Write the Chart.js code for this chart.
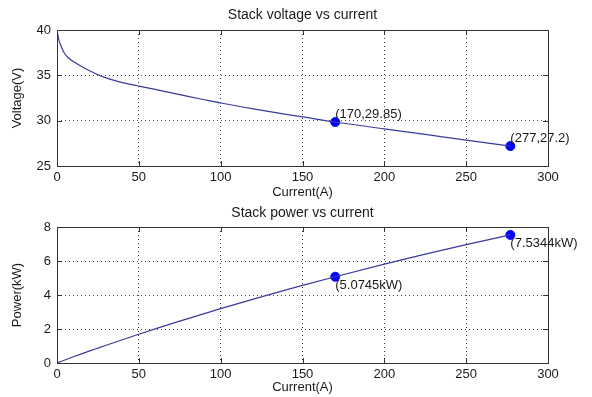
<!DOCTYPE html>
<html>
<head>
<meta charset="utf-8">
<script src="https://cdn.jsdelivr.net/npm/chart.js@4"></script>
<style>
  html, body { margin: 0; padding: 0; background: #fff; }
  #wrap { position: relative; width: 592px; height: 397px; }
  #wrap div { position: absolute; left: 0; width: 592px; }
</style>
</head>
<body>
<div id="wrap">
  <div style="top:0;height:200px"><canvas id="vChart"></canvas></div>
  <div style="top:200px;height:197px"><canvas id="pChart"></canvas></div>
</div>
<script>
// values
const current = [0, 1, 2, 4, 6, 8, 10, 15, 20, 25, 30, 35, 40, 45, 50, 60, 70, 80, 90, 100, 120, 140, 150, 170, 200, 225, 250, 277];
const voltage = [40, 39.0, 38.45, 37.6, 37.1, 36.78, 36.52, 35.98, 35.5, 35.06, 34.72, 34.44, 34.2, 34.0, 33.82, 33.45, 33.06, 32.68, 32.31, 31.95, 31.3, 30.7, 30.42, 29.85, 29.1, 28.48, 27.85, 27.2];
const power = [0, 0.039, 0.0769, 0.1504, 0.2226, 0.2942, 0.3652, 0.5397, 0.71, 0.8765, 1.0416, 1.2054, 1.368, 1.53, 1.691, 2.007, 2.3142, 2.6144, 2.9079, 3.195, 3.756, 4.298, 4.563, 5.0745, 5.82, 6.408, 6.9625, 7.5344];

const markCurrent = [170, 277];
const markVoltage = [29.85, 27.2];
const markPower = [5.0745, 7.5344];
const voltLabels = ['(170,29.85)', '(277,27.2)'];
const powerLabels = ['(5.0745kW)', '(7.5344kW)'];

const xTicks = [0, 50, 100, 150, 200, 250, 300];
const voltTicks = [25, 30, 35, 40];
const powerTicks = [0, 2, 4, 6, 8];

const FONT = 'Liberation Sans, Arial, sans-serif';
const LINE = '#3a3a9e';
const TEXT = '#1a1a1a';

function pts(xs, ys) {
  return xs.map((x, i) => ({ x: x, y: ys[i] }));
}

// box, inner ticks, title and point labels
const frame = {
  id: 'frame',
  afterDraw(chart, args, opts) {
    const ctx = chart.ctx;
    const a = chart.chartArea;
    const xs = chart.scales.x, ys = chart.scales.y;
    ctx.save();
    ctx.strokeStyle = '#333';
    ctx.lineWidth = 1;
    ctx.strokeRect(Math.round(a.left) + 0.5, Math.round(a.top) + 0.5, Math.round(a.right - a.left), Math.round(a.bottom - a.top));
    ctx.beginPath();
    xTicks.forEach(v => {
      const px = Math.round(xs.getPixelForValue(v)) + 0.5;
      ctx.moveTo(px, a.bottom); ctx.lineTo(px, a.bottom - 5);
      ctx.moveTo(px, a.top); ctx.lineTo(px, a.top + 5);
    });
    opts.yTicks.forEach(v => {
      const py = Math.round(ys.getPixelForValue(v)) + 0.5;
      ctx.moveTo(a.left, py); ctx.lineTo(a.left + 5, py);
      ctx.moveTo(a.right, py); ctx.lineTo(a.right - 5, py);
    });
    ctx.stroke();

    ctx.fillStyle = TEXT;
    ctx.font = '14px ' + FONT;
    ctx.textAlign = 'center';
    ctx.textBaseline = 'middle';
    ctx.fillText(opts.title, (a.left + a.right) / 2, opts.titleY);

    ctx.font = '13px ' + FONT;
    ctx.textAlign = 'left';
    const meta = chart.getDatasetMeta(1);
    meta.data.forEach((el, i) => {
      ctx.fillText(opts.labels[i], el.x, el.y + opts.labelDy[i]);
    });
    ctx.restore();
  }
};

function makeChart(id, ys, marks, yMin, yMax, yTicks, yTitle, opts) {
  return new Chart(document.getElementById(id), {
    type: 'scatter',
    data: {
      datasets: [
        {
          data: pts(current, ys),
          showLine: true,
          borderColor: LINE,
          borderWidth: 1.2,
          pointRadius: 0,
          cubicInterpolationMode: 'monotone'
        },
        {
          data: pts(markCurrent, marks),
          showLine: false,
          pointRadius: 4.5,
          pointBackgroundColor: '#0000ff',
          pointBorderColor: '#0000ff'
        }
      ]
    },
    options: {
      responsive: true,
      maintainAspectRatio: false,
      animation: false,
      layout: { padding: { top: opts.padTop, right: 44, left: 0, bottom: 0 } },
      plugins: {
        legend: { display: false },
        tooltip: { enabled: false },
        frame: opts.frame
      },
      scales: {
        x: {
          type: 'linear',
          min: 0, max: 300,
          afterBuildTicks: s => { s.ticks = xTicks.map(v => ({ value: v })); },
          afterFit: s => { s.height = opts.xHeight; },
          ticks: { color: TEXT, font: { family: FONT, size: 13 }, padding: 4 },
          grid: { color: '#444', lineWidth: 1, drawTicks: false },
          border: { display: false, dash: [1, 3] },
          title: { display: true, text: 'Current(A)', color: TEXT, font: { family: FONT, size: 13 }, padding: { top: 0, bottom: opts.xTitlePad } }
        },
        y: {
          min: yMin, max: yMax,
          afterBuildTicks: s => { s.ticks = yTicks.map(v => ({ value: v })); },
          afterFit: s => { s.width = 57; },
          ticks: { color: TEXT, font: { family: FONT, size: 13 }, padding: 6 },
          grid: { color: '#444', lineWidth: 1, drawTicks: false },
          border: { display: false, dash: [1, 3] },
          title: { display: true, text: yTitle, color: TEXT, font: { family: FONT, size: 13 }, padding: { top: 10, bottom: 0 } }
        }
      }
    },
    plugins: [frame]
  });
}

makeChart('vChart', voltage, markVoltage, 25, 40, voltTicks, 'Voltage(V)', {
  padTop: 30, xHeight: 34, xTitlePad: 0,
  frame: { title: 'Stack voltage vs current', titleY: 15, yTicks: voltTicks, labels: voltLabels, labelDy: [-8, -8] }
});
makeChart('pChart', power, markPower, 0, 8, powerTicks, 'Power(kW)', {
  padTop: 27, xHeight: 34, xTitlePad: 2,
  frame: { title: 'Stack power vs current', titleY: 13, yTicks: powerTicks, labels: powerLabels, labelDy: [9, 9] }
});
</script>
</body>
</html>
